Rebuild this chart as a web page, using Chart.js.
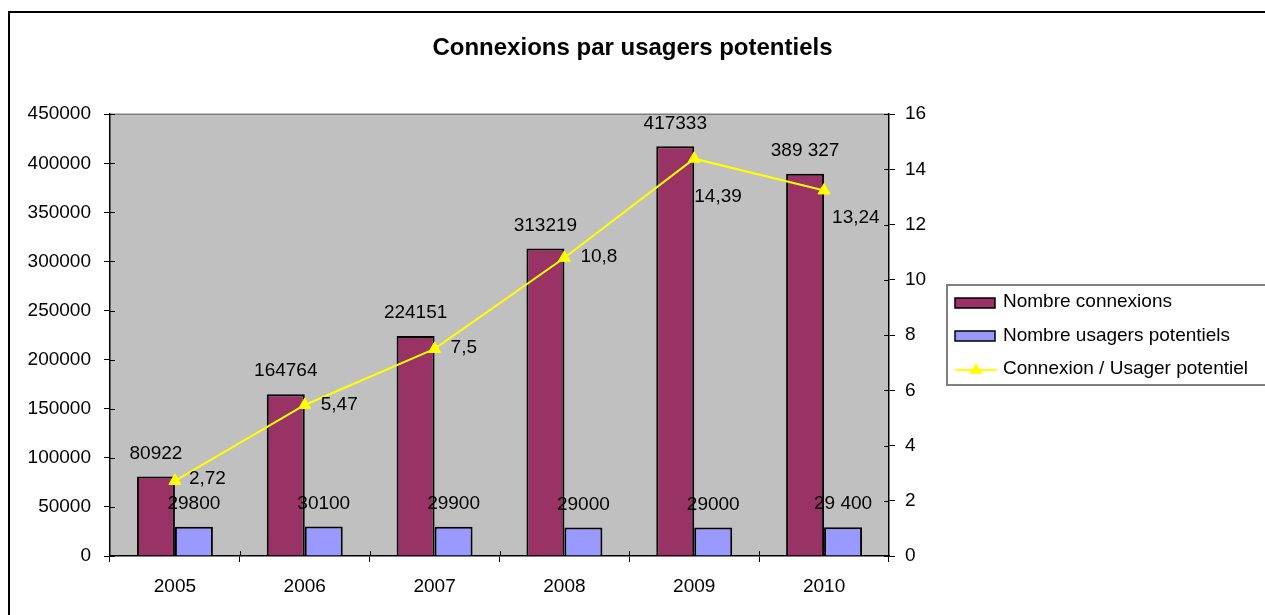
<!DOCTYPE html>
<html><head><meta charset="utf-8">
<script src="https://cdn.jsdelivr.net/npm/chart.js@4/dist/chart.umd.min.js"></script>
<style>html,body{margin:0;padding:0;background:#fff;overflow:hidden}#wrap{width:1265px;height:615px;position:relative}</style>
</head><body><div id="wrap"><canvas id="c"></canvas></div>
<script>
const categories = ['2005','2006','2007','2008','2009','2010'];
const connexions = [80922,164764,224151,313219,417333,389327];
const usagers = [29800,30100,29900,29000,29000,29400];
const ratio = [2.72,5.47,7.5,10.8,14.39,13.24];
const connexionsLabels = ['80922','164764','224151','313219','417333','389 327'];
const usagersLabels = ['29800','30100','29900','29000','29000','29 400'];
const ratioLabels = ['2,72','5,47','7,5','10,8','14,39','13,24'];
const seriesNames = ['Nombre connexions','Nombre usagers potentiels','Connexion / Usager potentiel'];
const chartTitle = 'Connexions par usagers potentiels';

const FONT = "'Liberation Sans', Arial, sans-serif";
const RED = '#993366', BLUE = '#9999FF', YELLOW = '#FFFF00';
// label placement styles (offsets from the point, in px)
const ratioLabelOffsets = [[14,-2],[16,0],[16,-1],[16,-1],[0,38],[8,27]];

const decor = {
  id: 'decor',
  beforeDraw(chart) {
    const {ctx, chartArea: a} = chart;
    ctx.save();
    ctx.fillStyle = '#fff';
    ctx.fillRect(0, 0, chart.width, chart.height);
    ctx.strokeStyle = '#000'; ctx.lineWidth = 2;
    ctx.beginPath();
    ctx.moveTo(9, chart.height + 2); ctx.lineTo(9, 12); ctx.lineTo(chart.width + 2, 12);
    ctx.stroke();
    ctx.fillStyle = '#C0C0C0';
    ctx.fillRect(a.left, a.top, a.right - a.left, a.bottom - a.top);
    ctx.strokeStyle = '#808080'; ctx.lineWidth = 1.5;
    ctx.beginPath(); ctx.moveTo(a.left, a.top); ctx.lineTo(a.right, a.top); ctx.stroke();
    ctx.restore();
  },
  afterDraw(chart) {
    const {ctx, chartArea: a, scales} = chart;
    ctx.save();
    // inner tick marks
    ctx.strokeStyle = '#000'; ctx.lineWidth = 1;
    scales.y.ticks.forEach(t => { const p = Math.round(scales.y.getPixelForValue(t.value)) + 0.5;
      ctx.beginPath(); ctx.moveTo(a.left, p); ctx.lineTo(a.left + 5, p); ctx.stroke(); });
    scales.y1.ticks.forEach(t => { const p = Math.round(scales.y1.getPixelForValue(t.value)) + 0.5;
      ctx.beginPath(); ctx.moveTo(a.right - 5, p); ctx.lineTo(a.right, p); ctx.stroke(); });
    const n = categories.length, cw = (a.right - a.left) / n;
    for (let i = 1; i < n; i++) { const p = Math.round(a.left + i * cw) + 0.5;
      ctx.beginPath(); ctx.moveTo(p, a.bottom - 5); ctx.lineTo(p, a.bottom); ctx.stroke(); }

    // data labels
    ctx.font = '19px ' + FONT; ctx.fillStyle = '#000'; ctx.textBaseline = 'middle';
    ctx.textAlign = 'center';
    chart.getDatasetMeta(0).data.forEach((el, i) => ctx.fillText(connexionsLabels[i], el.x, el.y - 23));
    chart.getDatasetMeta(1).data.forEach((el, i) => ctx.fillText(usagersLabels[i], el.x, el.y - 23));
    ctx.textAlign = 'left';
    chart.getDatasetMeta(2).data.forEach((el, i) => {
      const o = ratioLabelOffsets[i];
      ctx.fillText(ratioLabels[i], el.x + o[0], el.y + o[1]);
    });

    // legend
    const lx = 947, ly = 285, lw = 330, lh = 100;
    ctx.fillStyle = '#fff'; ctx.fillRect(lx, ly, lw, lh);
    ctx.strokeStyle = '#808080'; ctx.lineWidth = 2;
    ctx.strokeRect(lx, ly, lw, lh);
    const rows = [302, 336, 369];
    ctx.lineWidth = 1.5; ctx.strokeStyle = '#000';
    ctx.fillStyle = RED; ctx.fillRect(955, 298, 40, 10); ctx.strokeRect(955, 298, 40, 10);
    ctx.fillStyle = BLUE; ctx.fillRect(955, 331, 40, 10); ctx.strokeRect(955, 331, 40, 10);
    ctx.strokeStyle = YELLOW; ctx.lineWidth = 2;
    ctx.beginPath(); ctx.moveTo(955, 370); ctx.lineTo(997, 370); ctx.stroke();
    ctx.fillStyle = YELLOW;
    ctx.beginPath(); ctx.moveTo(976, 363); ctx.lineTo(982.5, 374); ctx.lineTo(969.5, 374); ctx.closePath(); ctx.fill();
    ctx.fillStyle = '#000'; ctx.font = '19px ' + FONT; ctx.textAlign = 'left'; ctx.textBaseline = 'middle';
    seriesNames.forEach((s, i) => ctx.fillText(s, 1003, rows[i]));
    ctx.restore();
  }
};

new Chart(document.getElementById('c'), {
  data: {
    labels: categories,
    datasets: [
      { type: 'bar', label: seriesNames[0], data: connexions, backgroundColor: RED, borderColor: '#000', borderWidth: 2, yAxisID: 'y', order: 2, categoryPercentage: 0.585, barPercentage: 1 },
      { type: 'bar', label: seriesNames[1], data: usagers, backgroundColor: BLUE, borderColor: '#000', borderWidth: 2, yAxisID: 'y', order: 2, categoryPercentage: 0.585, barPercentage: 1 },
      { type: 'line', label: seriesNames[2], data: ratio, borderColor: YELLOW, borderWidth: 2, backgroundColor: YELLOW, pointStyle: 'triangle', pointRadius: 7, pointBorderWidth: 1, pointBackgroundColor: YELLOW, pointBorderColor: YELLOW, yAxisID: 'y1', order: 0, tension: 0 }
    ]
  },
  options: {
    responsive: true, maintainAspectRatio: false, animation: false,
    devicePixelRatio: 1,
    layout: { padding: 0 },
    plugins: {
      legend: { display: false }, tooltip: { enabled: false },
      title: { display: true, text: chartTitle, color: '#000', font: { family: FONT, size: 24, weight: 'bold', lineHeight: 1.2 }, padding: { top: 34, bottom: 51.4 } }
    },
    scales: {
      x: {
        offset: true,
        grid: { offset: true, drawOnChartArea: false, color: '#000', tickLength: 6, tickWidth: 1 },
        border: { color: '#000', width: 1.5 },
        ticks: { color: '#000', font: { family: FONT, size: 19 }, padding: 13, maxRotation: 0 },
        afterFit(s) { s.height = 59; }
      },
      y: {
        position: 'left', min: 0, max: 450000,
        ticks: { stepSize: 50000, color: '#000', font: { family: FONT, size: 19 }, padding: 13, callback: v => String(v) },
        grid: { drawOnChartArea: false, color: '#000', tickLength: 6 },
        border: { color: '#000', width: 1.5 },
        afterFit(s) { s.width = 110; }
      },
      y1: {
        position: 'right', min: 0, max: 16,
        ticks: { stepSize: 2, color: '#000', font: { family: FONT, size: 19 }, padding: 10, callback: v => String(v) },
        grid: { drawOnChartArea: false, color: '#000', tickLength: 6 },
        border: { color: '#000', width: 1.5 },
        afterFit(s) { s.width = 376; }
      }
    }
  },
  plugins: [decor]
});
</script></body></html>
